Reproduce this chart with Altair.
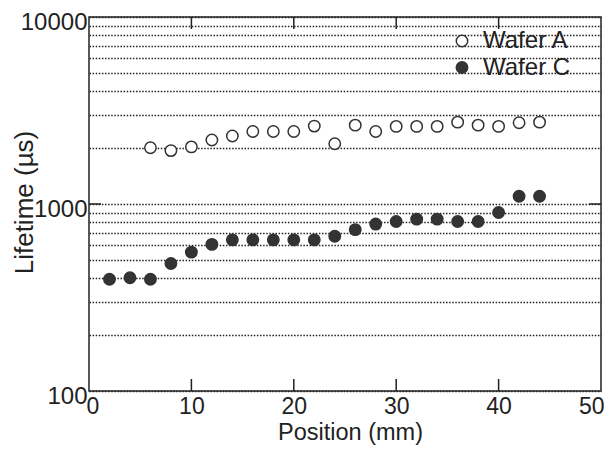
import altair as alt
import pandas as pd

# Wafer A (open circles)
a_pos = [6, 8, 10, 12, 14, 16, 18, 20, 22, 24, 26, 28, 30, 32, 34, 36, 38, 40, 42, 44]
a_life = [2000, 1930, 2020, 2200, 2310, 2440, 2440, 2440, 2610, 2100,
          2640, 2440, 2600, 2600, 2600, 2740, 2640, 2600, 2720, 2740]
# Wafer C (filled circles)
c_pos = [2, 4, 6, 8, 10, 12, 14, 16, 18, 20, 22, 24, 26, 28, 30, 32, 34, 36, 38, 40, 42, 44]
c_life = [396, 403, 396, 481, 553, 608, 643, 643, 643, 643, 643,
          672, 729, 781, 806, 830, 830, 806, 806, 900, 1100, 1100]

series_names = ["Wafer A", "Wafer C"]
x_tick_labels = [0, 10, 20, 30, 40, 50]
x_inner_ticks = [10, 20, 30, 40]
y_inner_ticks = [1000]
y_grid = [100, 200, 300, 400, 500, 600, 700, 800, 900,
          1000, 2000, 3000, 4000, 5000, 6000, 7000, 8000, 9000, 10000]

df = pd.DataFrame({
    "pos": a_pos + c_pos,
    "life": a_life + c_life,
    "wafer": [series_names[0]] * len(a_pos) + [series_names[1]] * len(c_pos),
})
df_xt = pd.DataFrame({"pos": x_inner_ticks})
df_yt = pd.DataFrame({"life": y_inner_ticks})

INK = "#222222"
DOT = "#333333"
W, H = 512, 374

xscale = alt.Scale(domain=[0, 50], nice=False, zero=False)
yscale = alt.Scale(type="log", domain=[100, 10000], nice=False)

xaxis = alt.Axis(values=x_tick_labels, grid=False, ticks=False, domain=False,
                 labelFontSize=23, labelPadding=22, labelBaseline="alphabetic",
                 labelFlush=True, labelFlushOffset=3, labelColor=INK,
                 title="Position (mm)", titleFontSize=23.5, titleFontWeight="normal",
                 titleColor=INK, titleX=261, titleY=48, titleBaseline="alphabetic")
yaxis = alt.Axis(values=y_grid, format="d",
                 labelExpr="datum.value == 100 || datum.value == 1000 || datum.value == 10000 ? datum.label : ''",
                 grid=True, gridDash=[1.5, 1.6], gridColor=INK, gridWidth=1.4,
                 ticks=False, domain=False, labelOverlap=False,
                 labelFontSize=24, labelPadding=2, labelBaseline="alphabetic",
                 labelOffset=12.5, labelColor=INK,
                 title="Lifetime (µs)", titleFontSize=26, titleFontWeight="normal",
                 titleColor=INK, titleX=-57, titleY=185, titleBaseline="alphabetic")

points = alt.Chart(df).mark_point(
    shape="circle", filled=True, size=130, stroke=DOT, strokeWidth=1.5, opacity=1
).encode(
    x=alt.X("pos:Q", scale=xscale, axis=xaxis),
    y=alt.Y("life:Q", scale=yscale, axis=yaxis),
    fill=alt.Fill("wafer:N",
                  scale=alt.Scale(domain=series_names, range=["white", DOT]),
                  legend=alt.Legend(title=None, orient="none", legendX=361, legendY=12,
                                    symbolType="circle", symbolSize=130,
                                    symbolStrokeWidth=1.5, symbolStrokeColor=DOT,
                                    symbolOpacity=1, labelFontSize=24, labelColor=INK,
                                    labelOffset=9, rowPadding=2.5, padding=0)),
)

tick_bottom = alt.Chart(df_xt).mark_rule(color=INK, strokeWidth=1.5).encode(
    x=alt.X("pos:Q"), y=alt.value(H), y2=alt.value(H - 12))
tick_top = alt.Chart(df_xt).mark_rule(color=INK, strokeWidth=1.5).encode(
    x=alt.X("pos:Q"), y=alt.value(0), y2=alt.value(12))
tick_left = alt.Chart(df_yt).mark_rule(color=INK, strokeWidth=1.5).encode(
    y=alt.Y("life:Q"), x=alt.value(0), x2=alt.value(12))
tick_right = alt.Chart(df_yt).mark_rule(color=INK, strokeWidth=1.5).encode(
    y=alt.Y("life:Q"), x=alt.value(W - 12), x2=alt.value(W))

chart = alt.layer(points, tick_bottom, tick_top, tick_left, tick_right).properties(
    width=W, height=H,
    padding={"left": 81, "top": 9, "right": 3, "bottom": 54},
    autosize="none",
).configure(font="Liberation Sans").configure_view(stroke=INK, strokeWidth=1.5)

chart.save("out.html", embed_options={"renderer": "svg", "actions": False})
